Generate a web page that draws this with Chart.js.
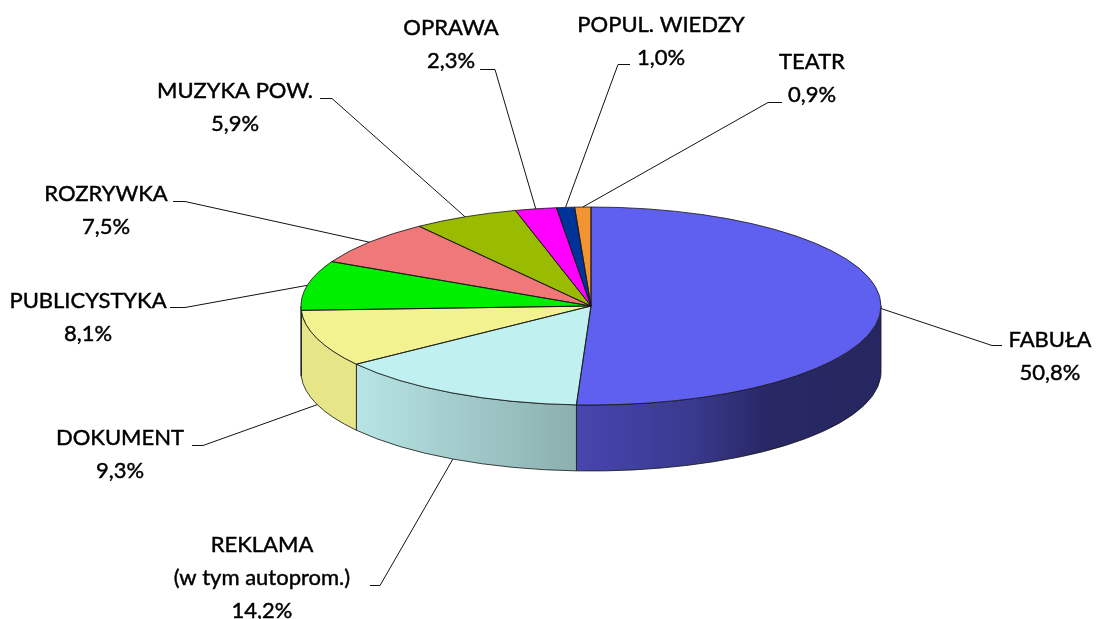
<!DOCTYPE html>
<html>
<head>
<meta charset="utf-8">
<script src="https://cdn.jsdelivr.net/npm/chart.js@4.4.1/dist/chart.umd.min.js"></script>
<style>
  html, body { margin: 0; padding: 0; background: #fff; }
  canvas { display: block; }
</style>
</head>
<body>
<canvas id="pieChart" width="1096" height="619"></canvas>
<script>
// Data
const categories = ['FABUŁA', ['REKLAMA', '(w tym autoprom.)'], 'DOKUMENT', 'PUBLICYSTYKA',
  'ROZRYWKA', 'MUZYKA POW.', 'OPRAWA', 'POPUL. WIEDZY', 'TEATR'];
const shares = [50.8, 14.2, 9.3, 8.1, 7.5, 5.9, 2.3, 1.0, 0.9];
const sliceColors = ['#6060F0', '#C0F0F0', '#F2F290', '#00EE00', '#F07878',
  '#99BB00', '#FF00FF', '#003399', '#F39433'];

// Look of the tilted pie
const TILT = 99 / 290;   // vertical squash of the top face
const FACE_Y = 306;      // centre of the top face on screen
const DEPTH = 66;        // height of the side wall
const LINE_H = 33;
// lighting across the side wall, left -> right
const lightStops = [[0, 0.95], [0.1, 0.95], [0.474, 0.73], [0.67, 0.6], [0.8, 0.42], [1, 0.4]];

// where each label sits: text centre x, first baseline, leader [x near text, x elbow, y], anchor on bottom edge
const labelLayout = [
  { x: 1050, y: 347, lead: [1002, 992, 345], low: false },
  { x: 262, y: 552, lead: [370, 380, 585], low: true },
  { x: 120, y: 445, lead: [192, 203, 445], low: true },
  { x: 88, y: 308, lead: [170, 185, 307], low: false },
  { x: 106, y: 201, lead: [173, 185, 201], low: false },
  { x: 235, y: 98, lead: [320, 332, 98], low: false },
  { x: 451, y: 35, lead: [480, 495, 69], low: false },
  { x: 661, y: 32, lead: [630, 618, 64], low: false },
  { x: 812, y: 69, lead: [782, 768, 102], low: false }
];

function shade(hex, f) {
  const n = parseInt(hex.slice(1), 16);
  const r = Math.round(((n >> 16) & 255) * f);
  const g = Math.round(((n >> 8) & 255) * f);
  const b = Math.round((n & 255) * f);
  return 'rgb(' + r + ',' + g + ',' + b + ')';
}

const pie3d = {
  id: 'pie3d',
  beforeDatasetsDraw(chart) {
    const ctx = chart.ctx;
    const arcs = chart.getDatasetMeta(0).data;
    const cx = arcs[0].x, cy = arcs[0].y, r = arcs[0].outerRadius, ry = r * TILT;

    // side wall, only the front half shows
    ctx.save();
    ctx.lineWidth = 1;
    ctx.strokeStyle = 'rgba(20,20,20,0.8)';
    arcs.forEach((arc, i) => {
      const a = Math.max(arc.startAngle, 0);
      const b = Math.min(arc.endAngle, Math.PI);
      if (b <= a) return;
      const g = ctx.createLinearGradient(cx - r, 0, cx + r, 0);
      lightStops.forEach(([t, f]) => g.addColorStop(t, shade(sliceColors[i], f)));
      ctx.beginPath();
      ctx.ellipse(cx, FACE_Y, r, ry, 0, a, b);
      ctx.ellipse(cx, FACE_Y + DEPTH, r, ry, 0, b, a, true);
      ctx.closePath();
      ctx.fillStyle = g;
      ctx.fill();
      ctx.stroke();
    });
    ctx.restore();

    // squash the top face drawn by Chart.js
    ctx.save();
    ctx.translate(0, FACE_Y);
    ctx.scale(1, TILT);
    ctx.translate(0, -cy);
  },
  afterDatasetsDraw(chart) {
    const ctx = chart.ctx;
    ctx.restore();
    const arcs = chart.getDatasetMeta(0).data;
    const cx = arcs[0].x, r = arcs[0].outerRadius, ry = r * TILT;

    ctx.save();
    ctx.lineWidth = 1;
    ctx.strokeStyle = 'rgba(20,20,20,0.8)';
    arcs.forEach(arc => {
      ctx.beginPath();
      ctx.moveTo(cx, FACE_Y);
      ctx.ellipse(cx, FACE_Y, r, ry, 0, arc.startAngle, arc.endAngle);
      ctx.closePath();
      ctx.stroke();
    });

    // labels with leader lines
    ctx.strokeStyle = '#111';
    ctx.fillStyle = '#000';
    ctx.font = '22px Lato, "Open Sans", sans-serif';
    ctx.textAlign = 'center';
    ctx.textBaseline = 'alphabetic';
    arcs.forEach((arc, i) => {
      const L = labelLayout[i];
      const m = (arc.startAngle + arc.endAngle) / 2;
      const ax = cx + r * Math.cos(m);
      const ay = FACE_Y + ry * Math.sin(m) + (L.low ? DEPTH : 0);
      ctx.lineWidth = 1;
      ctx.strokeStyle = '#111';
      ctx.beginPath();
      ctx.moveTo(ax, ay);
      ctx.lineTo(L.lead[1], L.lead[2] + 0.5);
      ctx.lineTo(L.lead[0], L.lead[2] + 0.5);
      ctx.stroke();

      const name = chart.data.labels[i];
      const lines = (Array.isArray(name) ? name : [name])
        .concat(shares[i].toFixed(1).replace('.', ',') + '%');
      // a hair of stroke to match the heavier original type
      ctx.lineWidth = 0.45;
      ctx.strokeStyle = '#000';
      lines.forEach((t, k) => {
        ctx.fillText(t, L.x, L.y + k * LINE_H);
        ctx.strokeText(t, L.x, L.y + k * LINE_H);
      });
    });
    ctx.restore();
  }
};

const ctx = document.getElementById('pieChart').getContext('2d');
const shareChart = new Chart(ctx, {
  type: 'pie',
  data: {
    labels: categories,
    datasets: [{
      data: shares,
      backgroundColor: sliceColors,
      borderWidth: 0,
      radius: 290
    }]
  },
  options: {
    responsive: false,
    animation: false,
    events: [],
    layout: { padding: { left: 301, right: 215, top: 19, bottom: 20 } },
    plugins: {
      legend: { display: false },
      tooltip: { enabled: false }
    }
  },
  plugins: [pie3d]
});
</script>
</body>
</html>
